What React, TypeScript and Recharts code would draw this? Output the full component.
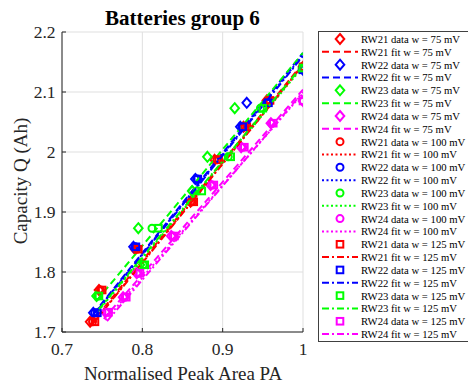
import { ScatterChart, Scatter, XAxis, YAxis, CartesianGrid, Legend } from 'recharts'

const xTicks = [0.7, 0.8, 0.9, 1]
const yTicks = [1.7, 1.8, 1.9, 2, 2.1, 2.2]

// capacity per check-up (Ah)
const rw21Q = [1.717, 1.770, 1.838, 1.917, 1.987, 2.042, 2.086, 2.142]
const rw22Q = [1.732, 1.842, 1.955, 2.042, 2.082, 2.137]
const rw23Q = [1.760, 1.812, 1.873, 1.935, 1.992, 2.073, 2.140]
const rw24Q = [1.733, 1.758, 1.798, 1.860, 1.945, 2.008, 2.048, 2.085]

// normalised peak area for each window width
const rw21PA75 = [0.735, 0.746, 0.791, 0.860, 0.890, 0.926, 0.955, 1.0]
const rw21PA100 = [0.738, 0.748, 0.793, 0.862, 0.893, 0.928, 0.957, 1.0]
const rw21PA125 = [0.741, 0.750, 0.795, 0.864, 0.895, 0.930, 0.959, 1.0]
const rw22PA75 = [0.739, 0.789, 0.866, 0.922, 0.930, 1.0]
const rw22PA100 = [0.741, 0.791, 0.868, 0.924, 0.955, 1.0]
const rw22PA125 = [0.744, 0.792, 0.869, 0.925, 0.957, 1.0]
const rw23PA75 = [0.743, 0.797, 0.795, 0.862, 0.881, 0.915, 1.0]
const rw23PA100 = [0.745, 0.801, 0.812, 0.868, 0.907, 0.947, 1.0]
const rw23PA125 = [0.746, 0.803, 0.820, 0.874, 0.910, 0.950, 1.0]
const rw24PA75 = [0.754, 0.776, 0.793, 0.836, 0.885, 0.923, 0.960, 1.0]
const rw24PA100 = [0.756, 0.778, 0.795, 0.838, 0.887, 0.925, 0.961, 1.0]
const rw24PA125 = [0.758, 0.780, 0.797, 0.840, 0.889, 0.927, 0.963, 1.0]

// linear fits, start / end
const rw21Fit75 = [[0.735, 1.712], [1.0, 2.148]]
const rw21Fit100 = [[0.738, 1.714], [1.0, 2.146]]
const rw21Fit125 = [[0.741, 1.718], [1.0, 2.145]]
const rw22Fit75 = [[0.739, 1.730], [1.0, 2.165]]
const rw22Fit100 = [[0.741, 1.732], [1.0, 2.162]]
const rw22Fit125 = [[0.744, 1.736], [1.0, 2.160]]
const rw23Fit75 = [[0.743, 1.752], [1.0, 2.165]]
const rw23Fit100 = [[0.745, 1.735], [1.0, 2.142]]
const rw23Fit125 = [[0.746, 1.738], [1.0, 2.145]]
const rw24Fit75 = [[0.752, 1.722], [1.0, 2.104]]
const rw24Fit100 = [[0.754, 1.720], [1.0, 2.098]]
const rw24Fit125 = [[0.756, 1.718], [1.0, 2.100]]

const RED = '#ff0000'
const BLUE = '#0000ff'
const GREEN = '#00ff00'
const MAGENTA = '#ff00ff'
const AXIS = '#262626'
const FONT = '"Liberation Serif", "Times New Roman", serif'

const styleByW: Record<number, { marker: string; dash: string }> = {
  75: { marker: 'diamond', dash: '7 4' },
  100: { marker: 'circle', dash: '2 2.5' },
  125: { marker: 'square', dash: '7 3 2 3' },
}

const zip = (xs: number[], ys: number[]) => xs.map((x, i) => ({ x, y: ys[i] }))
const fitPts = (f: number[][]) => f.map(([x, y]) => ({ x, y }))

const series = [
  { name: 'RW21', w: 75, color: RED, data: zip(rw21PA75, rw21Q), fit: fitPts(rw21Fit75) },
  { name: 'RW22', w: 75, color: BLUE, data: zip(rw22PA75, rw22Q), fit: fitPts(rw22Fit75) },
  { name: 'RW23', w: 75, color: GREEN, data: zip(rw23PA75, rw23Q), fit: fitPts(rw23Fit75) },
  { name: 'RW24', w: 75, color: MAGENTA, data: zip(rw24PA75, rw24Q), fit: fitPts(rw24Fit75) },
  { name: 'RW21', w: 100, color: RED, data: zip(rw21PA100, rw21Q), fit: fitPts(rw21Fit100) },
  { name: 'RW22', w: 100, color: BLUE, data: zip(rw22PA100, rw22Q), fit: fitPts(rw22Fit100) },
  { name: 'RW23', w: 100, color: GREEN, data: zip(rw23PA100, rw23Q), fit: fitPts(rw23Fit100) },
  { name: 'RW24', w: 100, color: MAGENTA, data: zip(rw24PA100, rw24Q), fit: fitPts(rw24Fit100) },
  { name: 'RW21', w: 125, color: RED, data: zip(rw21PA125, rw21Q), fit: fitPts(rw21Fit125) },
  { name: 'RW22', w: 125, color: BLUE, data: zip(rw22PA125, rw22Q), fit: fitPts(rw22Fit125) },
  { name: 'RW23', w: 125, color: GREEN, data: zip(rw23PA125, rw23Q), fit: fitPts(rw23Fit125) },
  { name: 'RW24', w: 125, color: MAGENTA, data: zip(rw24PA125, rw24Q), fit: fitPts(rw24Fit125) },
]

function Marker({ kind, cx, cy, color }: { kind: string; cx: number; cy: number; color: string }) {
  if (cx == null || cy == null) return null
  if (kind === 'diamond') {
    return (
      <polygon
        points={`${cx},${cy - 5} ${cx + 4.3},${cy} ${cx},${cy + 5} ${cx - 4.3},${cy}`}
        fill="none" stroke={color} strokeWidth={2}
      />
    )
  }
  if (kind === 'circle') {
    return <circle cx={cx} cy={cy} r={3.5} fill="none" stroke={color} strokeWidth={2} />
  }
  return <rect x={cx - 3.3} y={cy - 3.3} width={6.6} height={6.6} fill="none" stroke={color} strokeWidth={2} />
}

const ROW = 12.83

function LegendBox() {
  const rows = series.flatMap((s) => [
    { s, kind: 'data', label: `${s.name} data w = ${s.w} mV` },
    { s, kind: 'fit', label: `${s.name} fit w = ${s.w} mV` },
  ])
  return (
    <svg width={152} height={311} style={{ display: 'block' }}>
      <rect x={0.5} y={0.5} width={160} height={310} fill="#fff" stroke="#404040" strokeWidth={1} />
      {rows.map((r, i) => {
        const cy = 8 + i * ROW
        const st = styleByW[r.s.w]
        return (
          <g key={i}>
            {r.kind === 'data' ? (
              <Marker kind={st.marker} cx={22} cy={cy} color={r.s.color} />
            ) : (
              <line x1={4} x2={40} y1={cy} y2={cy} stroke={r.s.color} strokeWidth={2} strokeDasharray={st.dash} />
            )}
            <text x={43} y={cy} dominantBaseline="central" fontFamily={FONT} fontSize={10.7} fill="#000">
              {r.label}
            </text>
          </g>
        )
      })}
    </svg>
  )
}

export default function App() {
  const tickStyle = { fontFamily: FONT, fontSize: 17.5, fill: AXIS }
  return (
    <div style={{ position: 'absolute', left: 0, top: 0 }}>
      <ScatterChart width={468} height={385} margin={{ top: 32, right: 165, bottom: 0, left: 0 }}>
        <CartesianGrid stroke="#dfdfdf" strokeWidth={1} />
        <XAxis
          type="number" dataKey="x" domain={[0.7, 1]} ticks={xTicks} height={53}
          allowDataOverflow stroke={AXIS} tickSize={-4} tickMargin={15} tick={tickStyle}
          tickFormatter={(v: number) => String(v)}
        />
        <YAxis
          type="number" dataKey="y" domain={[1.7, 2.2]} ticks={yTicks} width={62}
          allowDataOverflow stroke={AXIS} tickSize={-4} tickMargin={10.5} tick={tickStyle}
          tickFormatter={(v: number) => String(v)}
        />
        {series.flatMap((s, i) => [
          <Scatter
            key={`d${i}`} name={`${s.name} data w = ${s.w} mV`} data={s.data}
            isAnimationActive={false} legendType="none"
            shape={(p: any) => <Marker kind={styleByW[s.w].marker} cx={p.cx} cy={p.cy} color={s.color} />}
          />,
          <Scatter
            key={`f${i}`} name={`${s.name} fit w = ${s.w} mV`} data={s.fit}
            isAnimationActive={false} legendType="none"
            line={{ stroke: s.color, strokeWidth: 2, strokeDasharray: styleByW[s.w].dash }}
            shape={() => <g />}
          />,
        ])}
        <Legend
          layout="horizontal" align="center" verticalAlign="middle"
          wrapperStyle={{ left: 318, top: 31, width: 152 }}
          content={() => <LegendBox />}
        />
        <text x={182.5} y={25} textAnchor="middle" fontFamily={FONT} fontSize={21} fontWeight="bold" fill="#000">
          Batteries group 6
        </text>
        <text x={183} y={380} textAnchor="middle" fontFamily={FONT} fontSize={19} fill={AXIS}>
          Normalised Peak Area PA
        </text>
        <text
          x={20} y={181} textAnchor="middle" dominantBaseline="central" fontFamily={FONT} fontSize={19}
          fill={AXIS} transform="rotate(-90 20 181)"
        >
          Capacity Q (Ah)
        </text>
      </ScatterChart>
    </div>
  )
}
